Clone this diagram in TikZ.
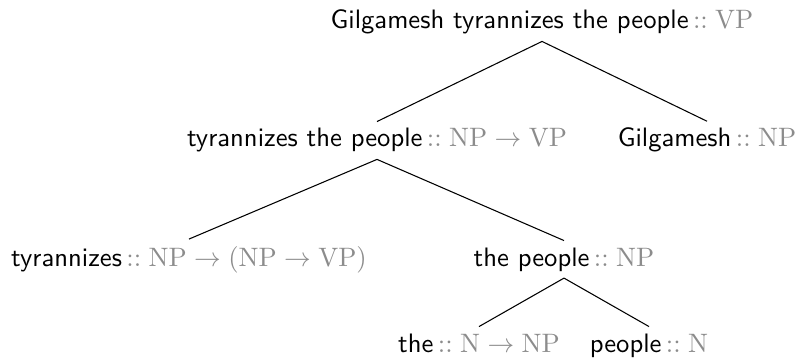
\documentclass[tikz,border=0pt]{standalone}
\usepackage{tikz}
\usetikzlibrary{positioning}
\usepackage{amsmath}
\definecolor{typgrau}{gray}{0.55}
% Typ hinter dem Wort, grau gesetzt
\newcommand{\typ}[1]{\,{\color{typgrau}$::\mathrm{#1}$}}

\begin{document}
\begin{tikzpicture}[x=0.375pt,y=-0.375pt,
  wort/.style={inner xsep=0pt,inner ysep=2.4pt,anchor=base,font=\sffamily}]
  \useasboundingbox (0,0) rectangle (796,359);
%Grundlinien der vier Zeilen
  \pgfmathsetmacro{\zA}{29}
  \pgfmathsetmacro{\zB}{147}
  \pgfmathsetmacro{\zC}{266}
  \pgfmathsetmacro{\zD}{352}
\node[wort] (wurzel) at (542,\zA) {Gilgamesh tyrannizes the people\typ{VP}};
\node[wort] (tdp) at (377,\zB) {tyrannizes the people\typ{NP \to VP}};
\node[wort] (gilg) at (707,\zB) {Gilgamesh\typ{NP}};
\node[wort] (tyr) at (189,\zC) {tyrannizes\typ{NP \to (NP \to VP)}};
\node[wort] (dp) at (564,\zC) {the people\typ{NP}};
\node[wort] (the) at (479,\zD) {the\typ{N \to NP}};
\node[wort] (people) at (649,\zD) {people\typ{N}};
%Kanten von oben nach unten
\foreach \oben/\unten in {wurzel/tdp,wurzel/gilg,tdp/tyr,tdp/dp,dp/the,dp/people}{
\draw (\oben.south) -- (\unten.north);
}
\end{tikzpicture}
\end{document}
